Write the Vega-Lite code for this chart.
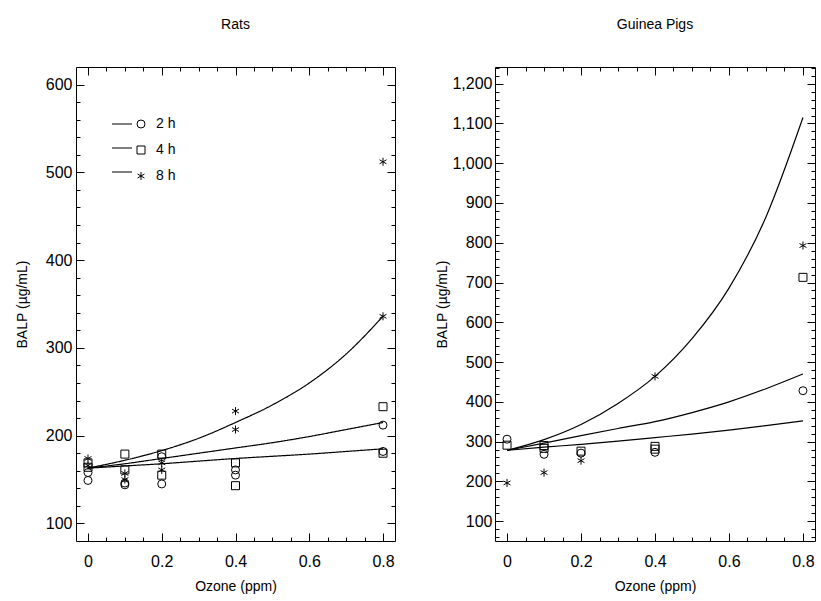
{
  "$schema": "https://vega.github.io/schema/vega-lite/v6.json",
  "padding": {"left": 15, "top": 17, "right": 5, "bottom": 3},
  "spacing": 39,
  "config": {
    "font": "Liberation Sans",
    "view": {"stroke": null},
    "axis": {
      "labelFont": "Liberation Sans", "titleFont": "Liberation Sans",
      "labelFontSize": 16, "titleFontSize": 14, "titleFontWeight": "normal",
      "labelColor": "black", "titleColor": "black", "domainColor": "black", "tickColor": "black",
      "domainWidth": 1, "tickWidth": 1, "grid": false, "labelOverlap": false, "labelFlush": false
    },
    "title": {"fontSize": 14, "fontWeight": "normal", "color": "black", "font": "Liberation Sans", "offset": 35, "anchor": "middle"}
  },
  "datasets": {
    "ratPts": [
      {"ozone": 0, "balp": 174, "duration": "8 h"}, {"ozone": 0, "balp": 166, "duration": "8 h"},
      {"ozone": 0, "balp": 169, "duration": "4 h"}, {"ozone": 0, "balp": 164, "duration": "4 h"},
      {"ozone": 0, "balp": 158, "duration": "2 h"}, {"ozone": 0, "balp": 149, "duration": "2 h"},
      {"ozone": 0.1, "balp": 179, "duration": "4 h"}, {"ozone": 0.1, "balp": 161, "duration": "4 h"},
      {"ozone": 0.1, "balp": 157, "duration": "8 h"}, {"ozone": 0.1, "balp": 150, "duration": "8 h"},
      {"ozone": 0.1, "balp": 146, "duration": "2 h"}, {"ozone": 0.1, "balp": 144, "duration": "2 h"},
      {"ozone": 0.2, "balp": 179, "duration": "4 h"}, {"ozone": 0.2, "balp": 155, "duration": "4 h"},
      {"ozone": 0.2, "balp": 176, "duration": "2 h"}, {"ozone": 0.2, "balp": 145, "duration": "2 h"},
      {"ozone": 0.2, "balp": 169, "duration": "8 h"}, {"ozone": 0.2, "balp": 161, "duration": "8 h"},
      {"ozone": 0.4, "balp": 228, "duration": "8 h"}, {"ozone": 0.4, "balp": 207, "duration": "8 h"},
      {"ozone": 0.4, "balp": 169, "duration": "4 h"}, {"ozone": 0.4, "balp": 143, "duration": "4 h"},
      {"ozone": 0.4, "balp": 161, "duration": "2 h"}, {"ozone": 0.4, "balp": 155, "duration": "2 h"},
      {"ozone": 0.8, "balp": 512, "duration": "8 h"}, {"ozone": 0.8, "balp": 336, "duration": "8 h"},
      {"ozone": 0.8, "balp": 233, "duration": "4 h"}, {"ozone": 0.8, "balp": 180, "duration": "4 h"},
      {"ozone": 0.8, "balp": 212, "duration": "2 h"}, {"ozone": 0.8, "balp": 182, "duration": "2 h"}
    ],
    "ratFit": [
      {"ozone": 0, "balp": 163, "fit": "2 h fit"}, {"ozone": 0.1, "balp": 165.5, "fit": "2 h fit"},
      {"ozone": 0.2, "balp": 168, "fit": "2 h fit"}, {"ozone": 0.3, "balp": 171, "fit": "2 h fit"},
      {"ozone": 0.4, "balp": 174, "fit": "2 h fit"}, {"ozone": 0.5, "balp": 176.5, "fit": "2 h fit"},
      {"ozone": 0.6, "balp": 179, "fit": "2 h fit"}, {"ozone": 0.7, "balp": 182, "fit": "2 h fit"},
      {"ozone": 0.8, "balp": 185, "fit": "2 h fit"},
      {"ozone": 0, "balp": 163, "fit": "4 h fit"}, {"ozone": 0.1, "balp": 168, "fit": "4 h fit"},
      {"ozone": 0.2, "balp": 174, "fit": "4 h fit"}, {"ozone": 0.3, "balp": 180, "fit": "4 h fit"},
      {"ozone": 0.4, "balp": 186, "fit": "4 h fit"}, {"ozone": 0.5, "balp": 192, "fit": "4 h fit"},
      {"ozone": 0.6, "balp": 199, "fit": "4 h fit"}, {"ozone": 0.7, "balp": 207, "fit": "4 h fit"},
      {"ozone": 0.8, "balp": 215, "fit": "4 h fit"},
      {"ozone": 0, "balp": 163, "fit": "8 h fit"}, {"ozone": 0.1, "balp": 172, "fit": "8 h fit"},
      {"ozone": 0.2, "balp": 183, "fit": "8 h fit"}, {"ozone": 0.3, "balp": 197, "fit": "8 h fit"},
      {"ozone": 0.4, "balp": 215, "fit": "8 h fit"}, {"ozone": 0.5, "balp": 235, "fit": "8 h fit"},
      {"ozone": 0.6, "balp": 260, "fit": "8 h fit"}, {"ozone": 0.7, "balp": 293, "fit": "8 h fit"},
      {"ozone": 0.8, "balp": 336, "fit": "8 h fit"}
    ],
    "gpPts": [
      {"ozone": 0, "balp": 306, "duration": "2 h"}, {"ozone": 0, "balp": 291, "duration": "4 h"},
      {"ozone": 0, "balp": 196, "duration": "8 h"},
      {"ozone": 0.1, "balp": 290, "duration": "4 h"}, {"ozone": 0.1, "balp": 283, "duration": "4 h"},
      {"ozone": 0.1, "balp": 268, "duration": "2 h"}, {"ozone": 0.1, "balp": 222, "duration": "8 h"},
      {"ozone": 0.2, "balp": 276, "duration": "4 h"}, {"ozone": 0.2, "balp": 271, "duration": "2 h"},
      {"ozone": 0.2, "balp": 252, "duration": "8 h"},
      {"ozone": 0.4, "balp": 288, "duration": "4 h"}, {"ozone": 0.4, "balp": 281, "duration": "4 h"},
      {"ozone": 0.4, "balp": 273, "duration": "2 h"}, {"ozone": 0.4, "balp": 464, "duration": "8 h"},
      {"ozone": 0.8, "balp": 793, "duration": "8 h"}, {"ozone": 0.8, "balp": 713, "duration": "4 h"},
      {"ozone": 0.8, "balp": 428, "duration": "2 h"}
    ],
    "gpFit": [
      {"ozone": 0, "balp": 278, "fit": "2 h fit"}, {"ozone": 0.1, "balp": 286, "fit": "2 h fit"},
      {"ozone": 0.2, "balp": 293, "fit": "2 h fit"}, {"ozone": 0.3, "balp": 301, "fit": "2 h fit"},
      {"ozone": 0.4, "balp": 310, "fit": "2 h fit"}, {"ozone": 0.5, "balp": 319, "fit": "2 h fit"},
      {"ozone": 0.6, "balp": 329, "fit": "2 h fit"}, {"ozone": 0.7, "balp": 340, "fit": "2 h fit"},
      {"ozone": 0.8, "balp": 352, "fit": "2 h fit"},
      {"ozone": 0, "balp": 278, "fit": "4 h fit"}, {"ozone": 0.1, "balp": 296, "fit": "4 h fit"},
      {"ozone": 0.2, "balp": 315, "fit": "4 h fit"}, {"ozone": 0.3, "balp": 333, "fit": "4 h fit"},
      {"ozone": 0.4, "balp": 350, "fit": "4 h fit"}, {"ozone": 0.5, "balp": 373, "fit": "4 h fit"},
      {"ozone": 0.6, "balp": 400, "fit": "4 h fit"}, {"ozone": 0.7, "balp": 433, "fit": "4 h fit"},
      {"ozone": 0.8, "balp": 470, "fit": "4 h fit"},
      {"ozone": 0, "balp": 278, "fit": "8 h fit"}, {"ozone": 0.1, "balp": 305, "fit": "8 h fit"},
      {"ozone": 0.2, "balp": 343, "fit": "8 h fit"}, {"ozone": 0.3, "balp": 396, "fit": "8 h fit"},
      {"ozone": 0.4, "balp": 464, "fit": "8 h fit"}, {"ozone": 0.5, "balp": 559, "fit": "8 h fit"},
      {"ozone": 0.6, "balp": 686, "fit": "8 h fit"}, {"ozone": 0.7, "balp": 865, "fit": "8 h fit"},
      {"ozone": 0.8, "balp": 1115, "fit": "8 h fit"}
    ]
  },
  "hconcat": [
    {
      "title": "Rats",
      "width": 319,
      "height": 474,
      "resolve": {"axis": {"x": "independent", "y": "independent"}},
      "layer": [
        {
          "data": {"name": "ratPts"},
          "mark": {"type": "point", "filled": false, "stroke": "black", "strokeWidth": 1, "size": 64, "opacity": 1},
          "encoding": {
            "x": {"field": "ozone", "type": "quantitative", "scale": {"domain": [-0.0325, 0.8325], "nice": false, "zero": false},
              "axis": {"orient": "bottom", "values": [0, 0.2, 0.4, 0.6, 0.8], "format": ".1~f", "title": "Ozone (ppm)", "tickSize": -8, "labelPadding": 20, "titlePadding": 10}},
            "y": {"field": "balp", "type": "quantitative", "scale": {"domain": [80, 620], "nice": false, "zero": false},
              "axis": {"orient": "left", "values": [100, 200, 300, 400, 500, 600], "title": "BALP (µg/mL)", "tickSize": -8, "labelPadding": 12, "titlePadding": 16}},
            "shape": {"field": "duration", "type": "nominal",
              "scale": {"domain": ["2 h", "4 h", "8 h"], "range": ["circle", "square", "M0,-1V1M-0.866,-0.5L0.866,0.5M-0.866,0.5L0.866,-0.5"]},
              "legend": {
                "orient": "none", "legendX": 58, "legendY": 50, "title": null, "padding": 0,
                "labelFont": "Liberation Sans", "labelFontSize": 14, "labelColor": "black",
                "symbolSize": 64, "symbolStrokeWidth": 1, "symbolStrokeColor": "black", "symbolFillColor": "transparent",
                "rowPadding": 12, "labelOffset": 8
              }}
          }
        },
        {
          "data": {"name": "ratFit"},
          "mark": {"type": "line", "color": "black", "strokeWidth": 1.2, "interpolate": "monotone"},
          "encoding": {
            "x": {"field": "ozone", "type": "quantitative", "scale": {"domain": [-0.0325, 0.8325], "nice": false, "zero": false},
              "axis": {"orient": "top", "values": [0, 0.2, 0.4, 0.6, 0.8], "labels": false, "title": null, "tickSize": -8}},
            "y": {"field": "balp", "type": "quantitative", "scale": {"domain": [80, 620], "nice": false, "zero": false},
              "axis": {"orient": "right", "values": [100, 200, 300, 400, 500, 600], "labels": false, "title": null, "tickSize": -8}},
            "strokeDash": {"field": "fit", "type": "nominal",
              "scale": {"domain": ["2 h fit", "4 h fit", "8 h fit"], "range": [[1, 0], [1, 0], [1, 0]]},
              "legend": {
                "orient": "none", "legendX": 35, "legendY": 46, "title": null, "padding": 0,
                "symbolType": "stroke", "symbolSize": 400, "symbolStrokeWidth": 1.2, "symbolStrokeColor": "black",
                "labelExpr": "''", "labelFontSize": 14, "rowPadding": 6, "labelOffset": 0
              }}
          }
        },
        {
          "data": {"name": "ratPts"},
          "mark": {"type": "point", "opacity": 0},
          "encoding": {
            "x": {"field": "ozone", "type": "quantitative", "scale": {"domain": [-0.0325, 0.8325], "nice": false, "zero": false},
              "axis": {"orient": "bottom", "values": [0.05, 0.1, 0.15, 0.25, 0.3, 0.35, 0.45, 0.5, 0.55, 0.65, 0.7, 0.75], "labels": false, "title": null, "domain": false, "tickSize": -4}},
            "y": {"field": "balp", "type": "quantitative", "scale": {"domain": [80, 620], "nice": false, "zero": false},
              "axis": {"orient": "left", "values": [120, 140, 160, 180, 220, 240, 260, 280, 320, 340, 360, 380, 420, 440, 460, 480, 520, 540, 560, 580], "labels": false, "title": null, "domain": false, "tickSize": -4}}
          }
        },
        {
          "data": {"name": "ratPts"},
          "mark": {"type": "point", "opacity": 0},
          "encoding": {
            "x": {"field": "ozone", "type": "quantitative", "scale": {"domain": [-0.0325, 0.8325], "nice": false, "zero": false},
              "axis": {"orient": "top", "values": [0.05, 0.1, 0.15, 0.25, 0.3, 0.35, 0.45, 0.5, 0.55, 0.65, 0.7, 0.75], "labels": false, "title": null, "domain": false, "tickSize": -4}},
            "y": {"field": "balp", "type": "quantitative", "scale": {"domain": [80, 620], "nice": false, "zero": false},
              "axis": {"orient": "right", "values": [120, 140, 160, 180, 220, 240, 260, 280, 320, 340, 360, 380, 420, 440, 460, 480, 520, 540, 560, 580], "labels": false, "title": null, "domain": false, "tickSize": -4}}
          }
        }
      ]
    },
    {
      "title": "Guinea Pigs",
      "width": 320,
      "height": 474,
      "resolve": {"axis": {"x": "independent", "y": "independent"}},
      "layer": [
        {
          "data": {"name": "gpPts"},
          "mark": {"type": "point", "filled": false, "stroke": "black", "strokeWidth": 1, "size": 64, "opacity": 1},
          "encoding": {
            "x": {"field": "ozone", "type": "quantitative", "scale": {"domain": [-0.0325, 0.8325], "nice": false, "zero": false},
              "axis": {"orient": "bottom", "values": [0, 0.2, 0.4, 0.6, 0.8], "format": ".1~f", "title": "Ozone (ppm)", "tickSize": -8, "labelPadding": 20, "titlePadding": 10}},
            "y": {"field": "balp", "type": "quantitative", "scale": {"domain": [50, 1242], "nice": false, "zero": false},
              "axis": {"orient": "left", "values": [100, 200, 300, 400, 500, 600, 700, 800, 900, 1000, 1100, 1200], "format": ",d", "title": "BALP (µg/mL)", "tickSize": -8, "labelPadding": 11, "titlePadding": 2}},
            "shape": {"field": "duration", "type": "nominal",
              "scale": {"domain": ["2 h", "4 h", "8 h"], "range": ["circle", "square", "M0,-1V1M-0.866,-0.5L0.866,0.5M-0.866,0.5L0.866,-0.5"]},
              "legend": null}
          }
        },
        {
          "data": {"name": "gpFit"},
          "mark": {"type": "line", "color": "black", "strokeWidth": 1.2, "interpolate": "monotone"},
          "encoding": {
            "x": {"field": "ozone", "type": "quantitative", "scale": {"domain": [-0.0325, 0.8325], "nice": false, "zero": false},
              "axis": {"orient": "top", "values": [0, 0.2, 0.4, 0.6, 0.8], "labels": false, "title": null, "tickSize": -8}},
            "y": {"field": "balp", "type": "quantitative", "scale": {"domain": [50, 1242], "nice": false, "zero": false},
              "axis": {"orient": "right", "values": [100, 200, 300, 400, 500, 600, 700, 800, 900, 1000, 1100, 1200], "labels": false, "title": null, "tickSize": -8}},
            "detail": {"field": "fit", "type": "nominal"}
          }
        },
        {
          "data": {"name": "gpPts"},
          "mark": {"type": "point", "opacity": 0},
          "encoding": {
            "x": {"field": "ozone", "type": "quantitative", "scale": {"domain": [-0.0325, 0.8325], "nice": false, "zero": false},
              "axis": {"orient": "bottom", "values": [0.05, 0.1, 0.15, 0.25, 0.3, 0.35, 0.45, 0.5, 0.55, 0.65, 0.7, 0.75], "labels": false, "title": null, "domain": false, "tickSize": -4}},
            "y": {"field": "balp", "type": "quantitative", "scale": {"domain": [50, 1242], "nice": false, "zero": false},
              "axis": {"orient": "left", "values": [60, 80, 120, 140, 160, 180, 220, 240, 260, 280, 320, 340, 360, 380, 420, 440, 460, 480, 520, 540, 560, 580, 620, 640, 660, 680, 720, 740, 760, 780, 820, 840, 860, 880, 920, 940, 960, 980, 1020, 1040, 1060, 1080, 1120, 1140, 1160, 1180, 1220, 1240], "labels": false, "title": null, "domain": false, "tickSize": -4}}
          }
        },
        {
          "data": {"name": "gpPts"},
          "mark": {"type": "point", "opacity": 0},
          "encoding": {
            "x": {"field": "ozone", "type": "quantitative", "scale": {"domain": [-0.0325, 0.8325], "nice": false, "zero": false},
              "axis": {"orient": "top", "values": [0.05, 0.1, 0.15, 0.25, 0.3, 0.35, 0.45, 0.5, 0.55, 0.65, 0.7, 0.75], "labels": false, "title": null, "domain": false, "tickSize": -4}},
            "y": {"field": "balp", "type": "quantitative", "scale": {"domain": [50, 1242], "nice": false, "zero": false},
              "axis": {"orient": "right", "values": [60, 80, 120, 140, 160, 180, 220, 240, 260, 280, 320, 340, 360, 380, 420, 440, 460, 480, 520, 540, 560, 580, 620, 640, 660, 680, 720, 740, 760, 780, 820, 840, 860, 880, 920, 940, 960, 980, 1020, 1040, 1060, 1080, 1120, 1140, 1160, 1180, 1220, 1240], "labels": false, "title": null, "domain": false, "tickSize": -4}}
          }
        }
      ]
    }
  ]
}
